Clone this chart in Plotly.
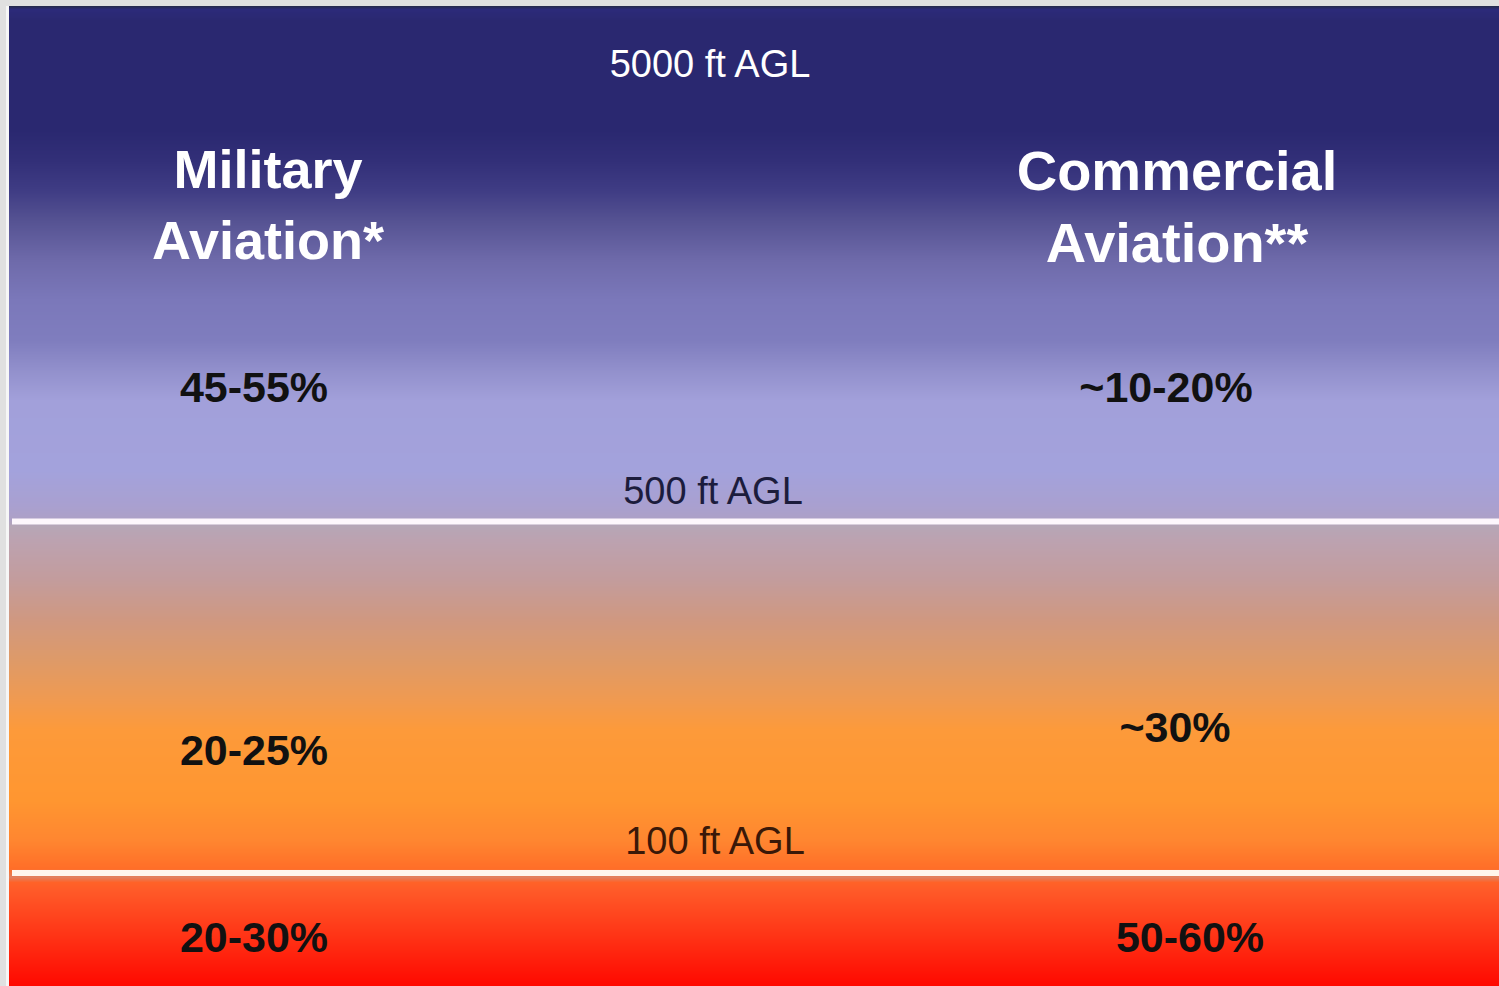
import plotly.graph_objects as go

# ---------------- data ----------------
altitude_labels = ["5000 ft AGL", "500 ft AGL", "100 ft AGL"]
group_headers = ["Military<br>Aviation*", "Commercial<br>Aviation**"]
military_share = ["45-55%", "20-25%", "20-30%"]
commercial_share = ["~10-20%", "~30%", "50-60%"]
band_boundaries = [515.5, 867.0]   # vertical position of the white separators (chart units, 0 = top)

# ---------------- layout / style (positions in chart units, 0,0 = top-left of panel) ----------------
W, H = 1490, 980
alt_pos_x = [701, 704, 706]
alt_pos_y = [61, 488, 838]
alt_colors = ["#ffffff", "#1c1c3c", "#3a1808"]
header_pos_x = [259, 1168]
header_pos_y = [204, 206]
header_sizes = [54, 56]
mil_pos_x = [245, 245, 245]
mil_pos_y = [385, 748, 935]
com_pos_x = [1157, 1166, 1181]
com_pos_y = [385, 725, 935]

# gradient stops (chart y, colour)
grad_stops = [
    (0, "#262a50"), (3, "#2c2a7a"), (14, "#2a2870"), (124, "#2a2870"),
    (154, "#322f78"), (184, "#3f3c84"), (214, "#555292"), (254, "#6e6aaa"),
    (294, "#7b78ba"), (334, "#7f7dbe"), (364, "#9290cc"), (394, "#a2a0da"),
    (464, "#a3a2dc"), (499, "#a9a0d0"), (513, "#ada0c6"), (520, "#b6a6b6"),
    (534, "#bca2b0"), (574, "#c39c9c"), (614, "#d09880"), (654, "#de9a68"),
    (694, "#f09a50"), (724, "#fd9a3a"), (794, "#ff9630"), (834, "#ff8630"),
    (862, "#ff6e28"), (871, "#e2805e"), (876, "#ff6228"), (884, "#ff5a28"),
    (924, "#ff3818"), (980, "#ff0800"),
]
colorscale = [[y / H, c] for y, c in grad_stops]

rows = list(range(0, H + 1))
z = [[r, r] for r in rows]

fig = go.Figure()
fig.add_trace(go.Heatmap(
    x=[0, W], y=rows, z=z, zmin=0, zmax=H,
    colorscale=colorscale, showscale=False, hoverinfo="skip", zsmooth=False,
))

FONT = "Liberation Sans, Arial, sans-serif"

fig.add_trace(go.Scatter(
    x=alt_pos_x, y=alt_pos_y, mode="text", text=altitude_labels,
    textposition="middle center",
    textfont=dict(family=FONT, size=38, color=alt_colors), hoverinfo="skip",
))
fig.add_trace(go.Scatter(
    x=header_pos_x, y=header_pos_y, mode="text",
    text=[f"<b>{h}</b>" for h in group_headers],
    textposition="middle center",
    textfont=dict(family=FONT, size=header_sizes, color="#ffffff"), hoverinfo="skip",
))
fig.add_trace(go.Scatter(
    x=mil_pos_x, y=mil_pos_y, mode="text",
    text=[f"<b>{t}</b>" for t in military_share],
    textposition="middle center",
    textfont=dict(family=FONT, size=43, color="#111111"), hoverinfo="skip",
))
fig.add_trace(go.Scatter(
    x=com_pos_x, y=com_pos_y, mode="text",
    text=[f"<b>{t}</b>" for t in commercial_share],
    textposition="middle center",
    textfont=dict(family=FONT, size=43, color="#111111"), hoverinfo="skip",
))

line_colors = ["#fdf6fc", "#fff6ec"]
for yb, lc in zip(band_boundaries, line_colors):
    fig.add_shape(type="line", xref="x", yref="y", x0=3, x1=W, y0=yb, y1=yb,
                  line=dict(color=lc, width=6))

# thin light strip at the left edge of the panel
fig.add_shape(type="rect", xref="paper", yref="paper", x0=-3 / W, x1=0, y0=0, y1=1,
              fillcolor="#f6f6f6", line=dict(width=0), layer="below")

fig.update_layout(
    width=1499, height=986,
    margin=dict(l=9, r=0, t=6, b=0, pad=0),
    paper_bgcolor="#e0e0e0", plot_bgcolor="#2a2870",
    showlegend=False,
    xaxis=dict(range=[0, W], visible=False, fixedrange=True),
    yaxis=dict(range=[H, 0], visible=False, fixedrange=True),
)

fig.write_html("out.html")
